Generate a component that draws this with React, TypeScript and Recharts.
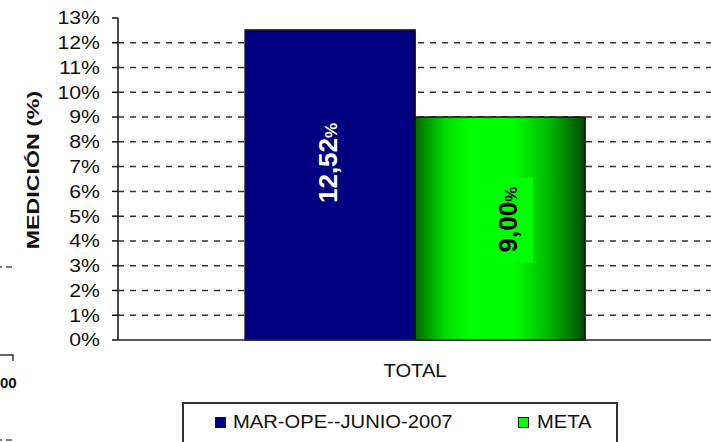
import React from "react";
import { BarChart, Bar, XAxis, YAxis, CartesianGrid, LabelList } from "recharts";

const categories = ["TOTAL"];
const seriesNames = ["MAR-OPE--JUNIO-2007", "META"];
const medicion = [0.1252];
const meta = [0.09];
const yTicks = [0, 0.01, 0.02, 0.03, 0.04, 0.05, 0.06, 0.07, 0.08, 0.09, 0.1, 0.11, 0.12, 0.13];
const gridValues = yTicks.filter((v) => v > 0 && v < 0.13);
const yLabel = "MEDICIÓN (%)";

const data = categories.map((c, i) => ({ name: c, medicion: medicion[i], meta: meta[i] }));

const FONT = "'Liberation Sans', Arial, sans-serif";
const fmt = (v: number) => (v * 100).toFixed(2).replace(".", ",");

const YTick = (props: any) => {
  const { x, y, payload } = props;
  return (
    <g transform={`translate(${x},${y})`}>
      <text textAnchor="end" dominantBaseline="central" transform="scale(1.18,1)" fontSize={18} fontFamily={FONT} fill="#111">
        {Math.round(payload.value * 100)}%
      </text>
    </g>
  );
};

const XTick = (props: any) => {
  const { x, y, payload } = props;
  return (
    <g transform={`translate(${x},${y})`}>
      <text textAnchor="middle" dominantBaseline="central" transform="scale(1.12,1)" fontSize={18} fontFamily={FONT} fill="#111">
        {payload.value}
      </text>
    </g>
  );
};

const BlueLabel = (props: any) => {
  const { x, y, width, height, value } = props;
  const cx = x + width / 2 - 3;
  const cy = y + height / 2 - 22;
  return (
    <g transform={`translate(${cx},${cy}) rotate(-90)`}>
      <text x={0} y={10} textAnchor="middle" fontFamily={FONT} fontWeight="bold" fill="#ffffff">
        <tspan fontSize={26}>{fmt(value)}</tspan>
        <tspan fontSize={17}>%</tspan>
      </text>
    </g>
  );
};

const GreenLabel = (props: any) => {
  const { x, y, width, height, value } = props;
  const cx = x + width / 2 + 7;
  const cy = y + height / 2 - 9;
  return (
    <g>
      <rect x={cx - 20} y={cy - 42} width={46} height={85} fill="#00ff00" />
      <g transform={`translate(${cx},${cy}) rotate(-90)`}>
        <text x={0} y={10} textAnchor="middle" fontFamily={FONT} fontWeight="bold" fill="#000000">
          <tspan fontSize={26}>{fmt(value)}</tspan>
          <tspan fontSize={17}>%</tspan>
        </text>
      </g>
    </g>
  );
};

export default function App() {
  return (
    <div style={{ position: "absolute", left: 0, top: 0, width: 711, height: 442, overflow: "hidden", background: "#fff", fontFamily: FONT }}>
      <BarChart
        width={712}
        height={442}
        data={data}
        margin={{ top: 18, right: 0, bottom: 62, left: 0 }}
        barGap={0}
        barCategoryGap="21.4%"
      >
        <defs>
          <linearGradient id="greenGrad" x1="0" y1="0" x2="1" y2="0">
            <stop offset="0%" stopColor="#006a00" />
            <stop offset="18%" stopColor="#00e000" />
            <stop offset="32%" stopColor="#00ff00" />
            <stop offset="58%" stopColor="#00ff00" />
            <stop offset="80%" stopColor="#00b400" />
            <stop offset="100%" stopColor="#004a00" />
          </linearGradient>
        </defs>
        <CartesianGrid
          horizontal
          vertical={false}
          horizontalValues={gridValues}
          stroke="#333"
          strokeWidth={1.5}
          strokeDasharray="6 6"
        />
        <XAxis
          dataKey="name"
          height={40}
          tickLine={false}
          tickSize={0}
          tickMargin={31}
          axisLine={{ stroke: "#222", strokeWidth: 1.5 }}
          tick={<XTick />}
          interval={0}
        />
        <YAxis
          width={118}
          domain={[0, 0.13]}
          ticks={yTicks}
          interval={0}
          tickSize={6}
          tickMargin={12}
          tickLine={{ stroke: "#111", strokeWidth: 1.5 }}
          axisLine={{ stroke: "#111", strokeWidth: 1.5 }}
          tick={<YTick />}
        />
        <Bar dataKey="medicion" name={seriesNames[0]} fill="#000080" stroke="#111" strokeWidth={1.5} isAnimationActive={false}>
          <LabelList dataKey="medicion" content={<BlueLabel />} />
        </Bar>
        <Bar dataKey="meta" name={seriesNames[1]} fill="url(#greenGrad)" stroke="#111" strokeWidth={1.5} isAnimationActive={false}>
          <LabelList dataKey="meta" content={<GreenLabel />} />
        </Bar>
      </BarChart>

      <svg width={711} height={442} style={{ position: "absolute", left: 0, top: 0, pointerEvents: "none" }}>
        <text
          transform="translate(33,170) rotate(-90) scale(1.45,1)"
          textAnchor="middle"
          dominantBaseline="central"
          fontSize={16}
          fontWeight="bold"
          fontFamily={FONT}
          fill="#111"
        >
          {yLabel}
        </text>
        <line x1={0} y1={267} x2={2} y2={267} stroke="#555" strokeWidth={1.5} />
        <line x1={6} y1={267} x2={12} y2={267} stroke="#555" strokeWidth={1.5} />
        <polyline points="0,355 13,355 13,361" fill="none" stroke="#333" strokeWidth={1.5} />
        <text x={0} y={388} fontSize={15} fontWeight="bold" fontFamily={FONT} fill="#111">00</text>
        <line x1={0} y1={440} x2={2} y2={440} stroke="#555" strokeWidth={1.5} />
        <line x1={6} y1={440} x2={12} y2={440} stroke="#555" strokeWidth={1.5} />
      </svg>

      <div
        style={{
          position: "absolute",
          left: 182,
          top: 402,
          width: 436,
          height: 60,
          border: "2px solid #333",
          boxSizing: "border-box",
          background: "#fff",
        }}
      >
        <div style={{ position: "absolute", left: 31, top: 13, width: 9, height: 9, background: "#000080", border: "1px solid #111" }} />
        <div style={{ position: "absolute", left: 49, top: 8, fontSize: 18, lineHeight: "20px", color: "#111", transform: "scaleX(1.12)", transformOrigin: "left center", whiteSpace: "nowrap" }}>
          {seriesNames[0]}
        </div>
        <div style={{ position: "absolute", left: 334, top: 13, width: 9, height: 9, background: "#00ff00", border: "1px solid #111" }} />
        <div style={{ position: "absolute", left: 353, top: 8, fontSize: 18, lineHeight: "20px", color: "#111", transform: "scaleX(1.12)", transformOrigin: "left center", whiteSpace: "nowrap" }}>
          {seriesNames[1]}
        </div>
      </div>
    </div>
  );
}
